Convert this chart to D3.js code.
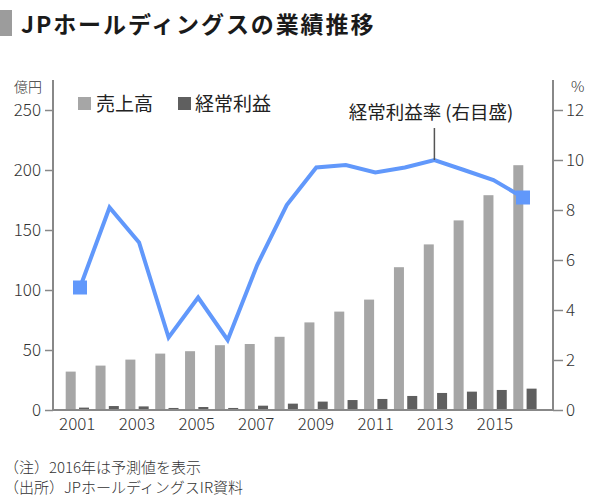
<!DOCTYPE html>
<html><head><meta charset="utf-8">
<script src="https://cdn.jsdelivr.net/npm/d3@7"></script>
<style>
html,body{margin:0;padding:0;background:#fff;}
svg{display:block;font-family:"Noto Sans CJK JP","Noto Sans",sans-serif;}
</style></head>
<body>
<svg id="chart" width="600" height="502"></svg>
<script>
const years = [2001,2002,2003,2004,2005,2006,2007,2008,2009,2010,2011,2012,2013,2014,2015,2016];
const sales = [32,37,42,47,49,54,55,61,73,82,92,119,138,158,179,204];
const profit = [2,3.3,3,1.7,2.5,1.7,3.6,5.3,7,8.3,9.2,11.7,14.2,15.3,16.7,17.8];
const margin = [4.9,8.1,6.7,2.9,4.5,2.8,5.8,8.2,9.7,9.8,9.5,9.7,10.0,9.6,9.2,8.5];
const leftTicks = [0,50,100,150,200,250];
const rightTicks = [0,2,4,6,8,10,12];
const xLabels = [2001,2003,2005,2007,2009,2011,2013,2015];

const svg = d3.select("#chart");
const textColor = "#333";
const axisColor = "#888";
const blue = "#6198fb";

// title
svg.append("rect").attr("x",0).attr("y",10).attr("width",12).attr("height",26).attr("fill","#9c9c9c");
svg.append("text").attr("x",21).attr("y",33).attr("font-size",23).attr("font-weight",700)
  .attr("letter-spacing",1.9).attr("fill","#1a1a1a").text("JPホールディングスの業績推移");

const x = d3.scaleBand().domain(years).range([62.3, 62.3 + 16*29.84]);
const xp = d3.scalePoint().domain(years).range([80, 523]);
const yL = d3.scaleLinear().domain([0,250]).range([410,110]);
const yR = d3.scaleLinear().domain([0,12]).range([410,110]);

// bars
svg.append("g").selectAll("rect").data(years).join("rect")
  .attr("x", (d)=>x(d)+3.4).attr("width",10)
  .attr("y",(d,i)=>yL(sales[i])).attr("height",(d,i)=>yL(0)-yL(sales[i]))
  .attr("fill","#a6a6a6");
svg.append("g").selectAll("rect").data(years).join("rect")
  .attr("x", (d)=>x(d)+16.7).attr("width",10)
  .attr("y",(d,i)=>yL(profit[i])).attr("height",(d,i)=>yL(0)-yL(profit[i]))
  .attr("fill","#5f5f5f");

// axes
const gL = svg.append("g").attr("transform","translate(53,0)")
  .call(d3.axisLeft(yL).tickValues(leftTicks).tickSize(8).tickPadding(4));
const gR = svg.append("g").attr("transform","translate(553,0)")
  .call(d3.axisRight(yR).tickValues(rightTicks).tickSize(10).tickPadding(3));
[gL,gR].forEach(g=>{
  g.select(".domain").remove();
  g.selectAll(".tick line").attr("stroke",axisColor).attr("stroke-width",1.5);
  g.selectAll(".tick text").attr("font-size",17).attr("fill",textColor)
    .attr("font-family","'Noto Sans CJK JP',sans-serif").attr("font-weight",300);
});
svg.append("line").attr("x1",53).attr("x2",53).attr("y1",80).attr("y2",410).attr("stroke",axisColor).attr("stroke-width",2);
svg.append("line").attr("x1",553).attr("x2",553).attr("y1",80).attr("y2",410).attr("stroke",axisColor).attr("stroke-width",2);
svg.append("line").attr("x1",53).attr("x2",553).attr("y1",410).attr("y2",410).attr("stroke",axisColor).attr("stroke-width",2);

// x labels
const gX = svg.append("g").attr("transform","translate(0,410)")
  .call(d3.axisBottom(x).tickValues(xLabels).tickSize(0).tickPadding(8));
gX.select(".domain").remove();
gX.selectAll(".tick text").attr("font-size",17).attr("fill",textColor)
  .attr("font-family","'Noto Sans CJK JP',sans-serif").attr("font-weight",300)
  .attr("dy","0.71em");

// units
svg.append("text").attr("x",14).attr("y",92).attr("font-size",14).attr("fill",textColor).attr("font-weight",300).text("億円");
svg.append("text").attr("x",571).attr("y",92).attr("font-size",15).attr("fill",textColor).attr("font-weight",300).text("%");

// line
const line = d3.line().x((d,i)=>xp(years[i])).y(d=>yR(d));
svg.append("path").datum(margin).attr("d",line).attr("fill","none")
  .attr("stroke",blue).attr("stroke-width",4).attr("stroke-linejoin","miter");
[0, years.length-1].forEach(i=>{
  svg.append("rect").attr("x",xp(years[i])-7).attr("y",yR(margin[i])-7)
    .attr("width",14).attr("height",14).attr("fill",blue);
});

// annotation
const ai = years.indexOf(2013);
svg.append("line").attr("x1",xp(2013)).attr("x2",xp(2013)).attr("y1",128).attr("y2",yR(margin[ai]))
  .attr("stroke","#555").attr("stroke-width",1.5);
svg.append("text").attr("x",431).attr("y",119).attr("text-anchor","middle").attr("font-size",18.5)
  .attr("fill","#222").text("経常利益率 (右目盛)");

// legend
svg.append("rect").attr("x",78).attr("y",97).attr("width",13).attr("height",13).attr("fill","#a6a6a6");
svg.append("text").attr("x",96).attr("y",111).attr("font-size",19).attr("fill","#222").text("売上高");
svg.append("rect").attr("x",178).attr("y",97).attr("width",13).attr("height",13).attr("fill","#5f5f5f");
svg.append("text").attr("x",195).attr("y",111).attr("font-size",19).attr("fill","#222").text("経常利益");

// notes
svg.append("text").attr("x",4).attr("y",473).attr("font-size",15).attr("fill",textColor).attr("font-weight",300).text("（注）2016年は予測値を表示");
svg.append("text").attr("x",4).attr("y",493).attr("font-size",15).attr("fill",textColor).attr("font-weight",300).text("（出所）JPホールディングスIR資料");
</script>
</body></html>
